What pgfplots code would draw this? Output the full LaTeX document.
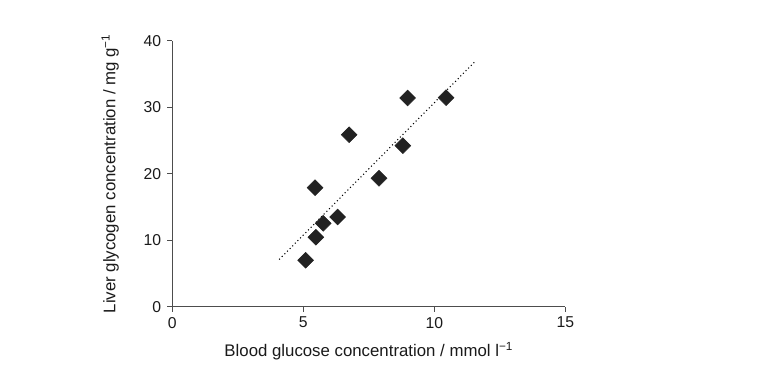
\documentclass[border=0pt]{standalone}
\usepackage{fontspec}
\setmainfont{Liberation Sans}
\usepackage{pgfplots}
\pgfplotsset{compat=1.18}
\definecolor{axgray}{HTML}{4D4D4D}
\definecolor{txt}{HTML}{1A1A1A}
\definecolor{mk}{HTML}{222222}
\begin{document}
\begin{tikzpicture}
\useasboundingbox (-129.2pt,-44.5pt) rectangle (449pt,230pt);
\begin{axis}[
  scale only axis,
  width=294.75pt, height=199.5pt,
  at={(0pt,0pt)}, anchor=south west,
  xmin=0, xmax=15, ymin=0, ymax=40,
  axis lines*=left,
  axis line style={axgray, line width=0.8pt},
  tick style={axgray, line width=0.8pt},
  tick align=outside,
  major tick length=3.75pt,
  xtick={0,5,10,15}, ytick={0,10,20,30,40},
  /pgf/number format/assume math mode=true,
  tick label style={font=\fontsize{11.8}{13}\selectfont, text=txt},
  label style={font=\fontsize{12.6}{14}\selectfont, text=txt},
  xlabel={Blood glucose concentration / mmol l\textsuperscript{−1}},
  ylabel={Liver glycogen concentration / mg g\textsuperscript{−1}},
  xlabel style={at={(axis description cs:0.5,-0.167)}, anchor=center},
  ylabel style={at={(axis description cs:-0.158,0.5)}, anchor=center},
  xticklabel style={yshift=-0.5pt},
  yticklabel style={xshift=-1pt},
  clip=false,
]
\addplot[only marks, mark=square*, mark size=4.2pt, mark options={rotate=45, fill=mk, draw=mk}] coordinates {
  (5.09,6.98) (5.48,10.44) (5.76,12.54) (6.31,13.49) (5.45,17.89)
  (6.75,25.86) (7.89,19.31) (8.80,24.21) (8.98,31.38) (10.45,31.43)
};
\addplot[black, dotted, line width=0.8pt] coordinates {(4.08,7.1) (11.59,37.0)};
\end{axis}
\end{tikzpicture}
\end{document}
